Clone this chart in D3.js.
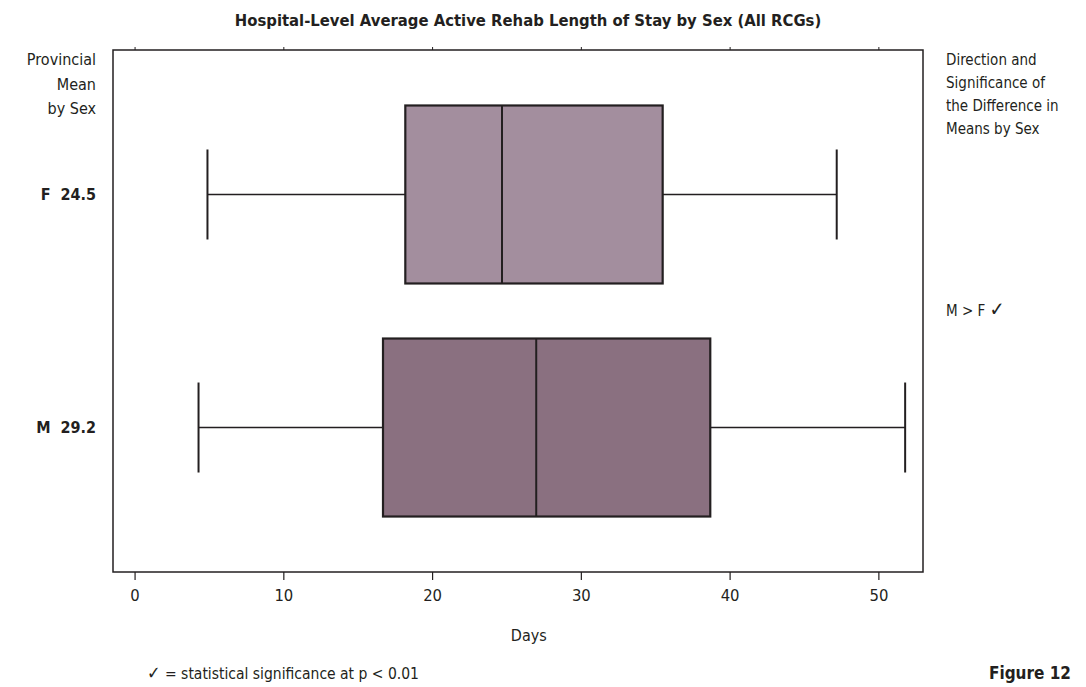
<!DOCTYPE html>
<html>
<head>
<meta charset="utf-8">
<script src="https://cdn.jsdelivr.net/npm/d3@7"></script>
<style>
  body { margin: 0; background: #fff; }
  svg text { font-family: "Liberation Sans Narrow", "DejaVu Sans Condensed", "Roboto", sans-serif; fill: #231f20; }
</style>
</head>
<body>
<div id="chart"></div>
<script>
// data
var sexes = ["F", "M"];
var provMeans = ["24.5", "29.2"];
var whiskerLow = [4.9, 4.3];
var q1 = [18.2, 16.7];
var median = [24.7, 27.0];
var q3 = [35.5, 38.7];
var whiskerHigh = [47.2, 51.8];
var boxColors = ["#a38e9e", "#8a7080"];
var xTicks = [0, 10, 20, 30, 40, 50];

var svgWidth = 1086, svgHeight = 687;
var margin = {top: 50, right: 163, bottom: 115, left: 113};
var width = svgWidth - margin.left - margin.right,
    height = svgHeight - margin.top - margin.bottom;

var svg = d3.select("#chart")
  .append("svg")
    .attr("width", svgWidth)
    .attr("height", svgHeight);

var g = svg.append("g")
    .attr("transform", "translate(" + margin.left + "," + margin.top + ")");

var x = d3.scaleLinear()
    .domain([-1.45, 53])
    .range([0, width]);

var y = d3.scalePoint()
    .domain(sexes)
    .range([0, height])
    .padding(0.62);

var boxH = 178, capH = 90;
var ink = "#231f20";

// frame
g.append("rect")
    .attr("width", width)
    .attr("height", height)
    .attr("fill", "none")
    .attr("stroke", ink)
    .attr("stroke-width", 1.5);

// bottom axis
var xAxis = g.append("g")
    .attr("transform", "translate(0," + height + ")")
    .call(d3.axisBottom(x).tickValues(xTicks).tickSize(8).tickPadding(9));
xAxis.select(".domain").remove();
xAxis.selectAll("line").attr("stroke", ink).attr("stroke-width", 1.2);
xAxis.selectAll("text").attr("font-size", 16.5).attr("fill", ink)
    .style("font-family", "'Liberation Sans Narrow', 'DejaVu Sans Condensed', sans-serif");

// top ticks, no labels
var topAxis = g.append("g")
    .call(d3.axisTop(x).tickValues(xTicks).tickSize(3).tickFormat(""));
topAxis.select(".domain").remove();
topAxis.selectAll("line").attr("stroke", ink).attr("stroke-width", 1);

// boxes
var rows = sexes.map(function(s, i) {
  return {sex: s, lo: whiskerLow[i], q1: q1[i], med: median[i], q3: q3[i], hi: whiskerHigh[i], color: boxColors[i], mean: provMeans[i]};
});

var box = g.selectAll(".box")
  .data(rows)
  .enter()
  .append("g")
    .attr("class", "box");

box.append("line")
    .attr("x1", function(d) { return x(d.lo); })
    .attr("x2", function(d) { return x(d.hi); })
    .attr("y1", function(d) { return y(d.sex); })
    .attr("y2", function(d) { return y(d.sex); })
    .attr("stroke", ink)
    .attr("stroke-width", 1.7);

box.selectAll(".cap")
  .data(function(d) { return [d.lo, d.hi].map(function(v) { return {v: v, sex: d.sex}; }); })
  .enter()
  .append("line")
    .attr("class", "cap")
    .attr("x1", function(d) { return x(d.v); })
    .attr("x2", function(d) { return x(d.v); })
    .attr("y1", function(d) { return y(d.sex) - capH / 2; })
    .attr("y2", function(d) { return y(d.sex) + capH / 2; })
    .attr("stroke", ink)
    .attr("stroke-width", 2);

box.append("rect")
    .attr("x", function(d) { return x(d.q1); })
    .attr("width", function(d) { return x(d.q3) - x(d.q1); })
    .attr("y", function(d) { return y(d.sex) - boxH / 2; })
    .attr("height", boxH)
    .attr("fill", function(d) { return d.color; })
    .attr("stroke", ink)
    .attr("stroke-width", 2.2);

box.append("line")
    .attr("x1", function(d) { return x(d.med); })
    .attr("x2", function(d) { return x(d.med); })
    .attr("y1", function(d) { return y(d.sex) - boxH / 2; })
    .attr("y2", function(d) { return y(d.sex) + boxH / 2; })
    .attr("stroke", ink)
    .attr("stroke-width", 2);

// left labels: provincial mean by sex
box.append("text")
    .attr("x", -17)
    .attr("y", function(d) { return y(d.sex); })
    .attr("dy", "0.35em")
    .attr("text-anchor", "end")
    .attr("font-size", 16)
    .attr("font-weight", "bold")
    .attr("xml:space", "preserve")
    .text(function(d) { return d.sex + "  " + d.mean; });

var leftHead = ["Provincial", "Mean", "by Sex"];
svg.append("g").selectAll("text")
  .data(leftHead)
  .enter()
  .append("text")
    .attr("x", 96)
    .attr("y", function(d, i) { return 65 + i * 24.5; })
    .attr("text-anchor", "end")
    .attr("font-size", 16)
    .text(function(d) { return d; });

var rightHead = ["Direction and", "Significance of", "the Difference in", "Means by Sex"];
svg.append("g").selectAll("text")
  .data(rightHead)
  .enter()
  .append("text")
    .attr("x", 946)
    .attr("y", function(d, i) { return 65 + i * 23; })
    .attr("font-size", 15)
    .text(function(d) { return d; });

var sig = svg.append("text")
    .attr("x", 946)
    .attr("y", (y("F") + y("M")) / 2 + margin.top + 5)
    .attr("font-size", 15)
    .attr("xml:space", "preserve");
sig.append("tspan").text("M > F ");
sig.append("tspan").attr("font-size", 20).text("\u2713");

// title
svg.append("text")
    .attr("x", 528)
    .attr("y", 26)
    .attr("text-anchor", "middle")
    .attr("font-size", 16.5)
    .attr("font-weight", "bold")
    .text("Hospital-Level Average Active Rehab Length of Stay by Sex (All RCGs)");

// x axis title
svg.append("text")
    .attr("x", margin.left + x(26.5))
    .attr("y", 641)
    .attr("text-anchor", "middle")
    .attr("font-size", 16)
    .text("Days");

// footnote
var foot = svg.append("text")
    .attr("x", 147)
    .attr("y", 679)
    .attr("font-size", 15.5);
foot.append("tspan").attr("font-size", 18).text("\u2713");
foot.append("tspan").text(" = statistical significance at p < 0.01");

svg.append("text")
    .attr("x", 1071)
    .attr("y", 679)
    .attr("text-anchor", "end")
    .attr("font-size", 17)
    .attr("font-weight", "bold")
    .text("Figure 12");
</script>
</body>
</html>
